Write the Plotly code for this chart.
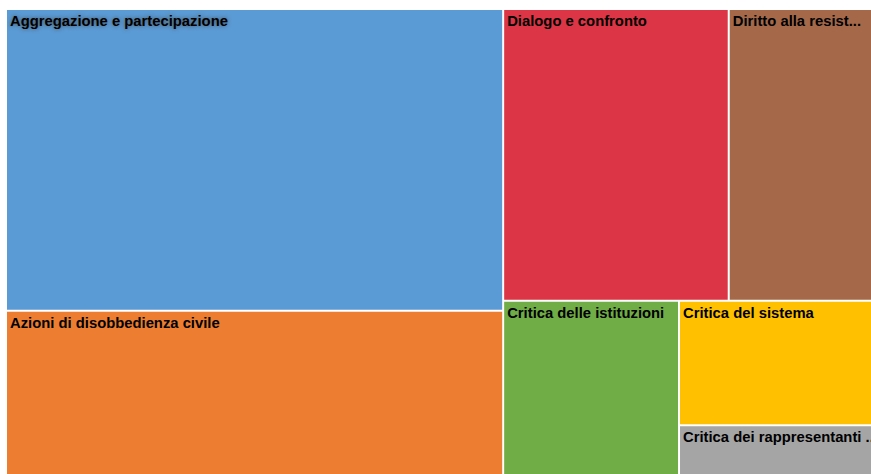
import plotly.graph_objects as go

# Leaf categories and their shares
categories = [
    "Aggregazione e partecipazione",
    "Azioni di disobbedienza civile",
    "Dialogo e confronto",
    "Diritto alla resist...",
    "Critica delle istituzioni",
    "Critica del sistema",
    "Critica dei rappresentanti ...",
]
values = [37.18, 20.23, 16.31, 10.36, 7.59, 5.95, 2.38]
colors = ["#5B9BD5", "#ED7D31", "#DC3545", "#A5694A", "#70AD47", "#FFC000", "#A5A5A5"]

# Layout grouping (slice/dice alternates per level); children keep list order
leaf_parents = ["g1", "g1", "g2a", "g2a", "g2b", "g2b2", "g2b2"]
groups = {"g1": "", "g2": "", "g2a": "g2", "g2b": "g2", "g2b2": "g2b"}
order = ["g1", 0, 1, "g2", "g2a", 2, 3, "g2b", 4, "g2b2", 5, 6]

ids, labels, parents, vals, texts, fill, shadows = [], [], [], [], [], [], []
for item in order:
    if isinstance(item, str):
        ids.append(item)
        labels.append("")
        parents.append(groups[item])
        vals.append(0)
        texts.append("")
        fill.append("#FFFFFF")
        shadows.append("none")
    else:
        ids.append(f"c{item}")
        labels.append(categories[item])
        parents.append(leaf_parents[item])
        vals.append(values[item])
        texts.append(categories[item])
        fill.append(colors[item])
        shadows.append("0px 0px 4px rgba(70,70,70,0.9)" if item == 0 else "none")

fig = go.Figure(
    go.Treemap(
        ids=ids,
        labels=labels,
        parents=parents,
        values=vals,
        branchvalues="remainder",
        sort=False,
        text=texts,
        textinfo="text",
        textposition="top left",
        textfont=dict(family="Liberation Sans, Arial, sans-serif", size=14.8,
                      color="black", weight="bold", shadow=shadows),
        marker=dict(colors=fill, line=dict(width=0, color="white"),
                    pad=dict(t=0, l=0, r=0, b=0)),
        tiling=dict(packing="slice-dice", pad=2),
        pathbar=dict(visible=False),
        hoverinfo="label+value",
    )
)

fig.update_layout(
    width=871,
    height=474,
    margin=dict(l=7, r=0, t=10, b=0),
    paper_bgcolor="white",
    uniformtext=dict(minsize=14.8, mode="show"),
)

fig.write_html("out.html")
